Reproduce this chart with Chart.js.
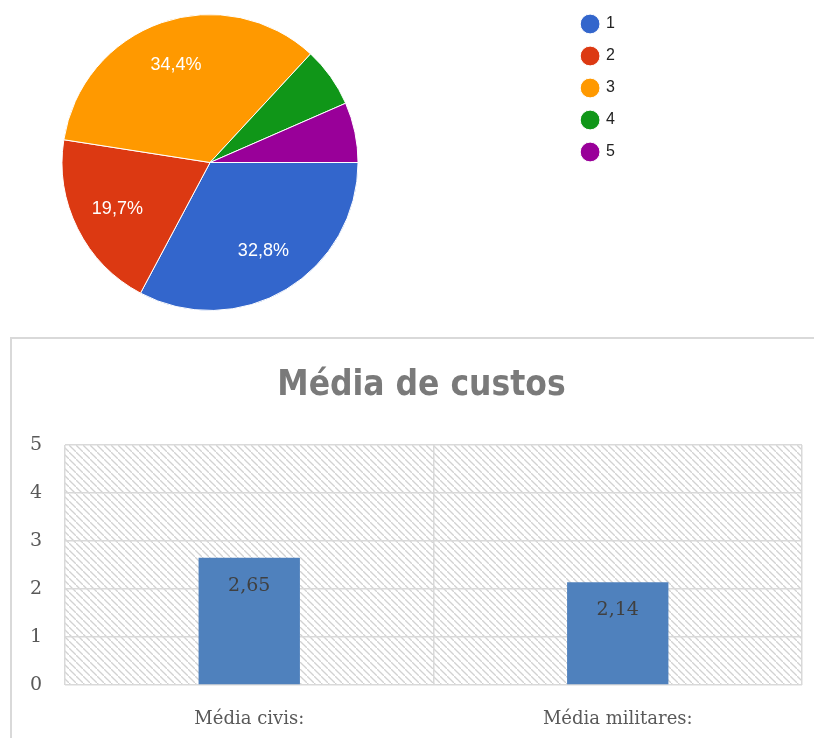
<!DOCTYPE html>
<html>
<head>
<meta charset="utf-8">
<script src="https://cdn.jsdelivr.net/npm/chart.js@4"></script>
<style>
  html, body { margin: 0; padding: 0; background: #fff; overflow: hidden; }
  body { width: 814px; height: 738px; position: relative; }
  #pieWrap { position: absolute; left: -146px; top: 0; width: 771px; height: 325px; }
  #barBox { position: absolute; left: 10px; top: 337px; width: 820px; height: 420px;
            border: 2px solid #d9d9d9; box-sizing: border-box; }
  #barWrap { position: absolute; left: 1px; top: 1px; width: 803px; height: 400px; }
</style>
</head>
<body>
<div id="pieWrap"><canvas id="pieChart"></canvas></div>
<div id="barBox"><div id="barWrap"><canvas id="barChart"></canvas></div></div>

<script>
// pie data (answers 1..5)
const pieLabels = ['1', '2', '3', '4', '5'];
const pieCounts = [20, 12, 21, 4, 4];
const pieColors = ['#3366cc', '#dc3912', '#ff9900', '#109618', '#990099'];

// bar data
const barLabels = ['Média civis:', 'Média militares:'];
const barValues = [2.65, 2.14];
const yTicks = [0, 1, 2, 3, 4, 5];

const serif = "'DejaVu Serif', 'Liberation Serif', serif";

// percent labels on the bigger slices
const sliceLabels = {
  id: 'sliceLabels',
  afterDatasetsDraw(chart) {
    const meta = chart.getDatasetMeta(0);
    const data = chart.data.datasets[0].data;
    const total = data.reduce((a, b) => a + b, 0);
    const ctx = chart.ctx;
    ctx.save();
    ctx.fillStyle = '#fff';
    ctx.font = "18px 'Liberation Sans', Arial, sans-serif";
    ctx.textAlign = 'center';
    ctx.textBaseline = 'middle';
    meta.data.forEach((arc, i) => {
      const pct = data[i] / total * 100;
      if (pct < 10) return;
      const mid = (arc.startAngle + arc.endAngle) / 2;
      const r = arc.outerRadius * 0.7;
      ctx.fillText(pct.toFixed(1).replace('.', ',') + '%',
        arc.x + Math.cos(mid) * r, arc.y + Math.sin(mid) * r);
    });
    ctx.restore();
  }
};

// hatched plot background
const hatchBg = {
  id: 'hatchBg',
  beforeDraw(chart) {
    const tile = document.createElement('canvas');
    tile.width = 7; tile.height = 7;
    const t = tile.getContext('2d');
    t.strokeStyle = '#d2d2d2';
    t.lineWidth = 1.3;
    t.beginPath();
    t.moveTo(-1, -1); t.lineTo(8, 8);
    t.stroke();
    const { ctx, chartArea: a } = chart;
    ctx.save();
    ctx.fillStyle = ctx.createPattern(tile, 'repeat');
    ctx.fillRect(a.left, a.top, a.right - a.left, a.bottom - a.top);
    ctx.restore();
  }
};

const barValueLabels = {
  id: 'barValueLabels',
  afterDatasetsDraw(chart) {
    const meta = chart.getDatasetMeta(0);
    const ctx = chart.ctx;
    ctx.save();
    ctx.fillStyle = '#404040';
    ctx.font = '19px ' + serif;
    ctx.textAlign = 'center';
    ctx.textBaseline = 'middle';
    meta.data.forEach((bar, i) => {
      ctx.fillText(String(barValues[i]).replace('.', ','), bar.x, bar.y + 28);
    });
    ctx.restore();
  }
};

new Chart(document.getElementById('pieChart'), {
  type: 'pie',
  data: {
    labels: pieLabels,
    datasets: [{
      data: pieCounts,
      backgroundColor: pieColors,
      borderColor: '#fff',
      borderWidth: 1,
      radius: 148
    }]
  },
  options: {
    responsive: true,
    maintainAspectRatio: false,
    animation: false,
    rotation: 90,
    layout: { padding: 0 },
    plugins: {
      legend: {
        position: 'right',
        align: 'start',
        labels: {
          usePointStyle: true,
          pointStyle: 'circle',
          boxWidth: 16,
          boxHeight: 14,
          padding: 16,
          color: '#222',
          font: { family: "'Liberation Sans', Arial, sans-serif", size: 16 }
        }
      },
      tooltip: { enabled: false }
    }
  },
  plugins: [sliceLabels]
});

new Chart(document.getElementById('barChart'), {
  type: 'bar',
  data: {
    labels: barLabels,
    datasets: [{
      data: barValues,
      backgroundColor: '#4f81bd',
      categoryPercentage: 1,
      barPercentage: 0.275
    }]
  },
  options: {
    responsive: true,
    maintainAspectRatio: false,
    animation: false,
    layout: { padding: { left: 14, right: 0, top: 0, bottom: 0 } },
    plugins: {
      legend: { display: false },
      tooltip: { enabled: false },
      title: {
        display: true,
        text: 'Média de custos',
        color: '#7a7a7a',
        font: { family: "'Liberation Sans Narrow', 'DejaVu Sans Condensed', sans-serif", size: 35, weight: 'bold', lineHeight: 1.2 },
        padding: { top: 25, bottom: 38 }
      }
    },
    scales: {
      x: {
        grid: { color: '#d9d9d9', lineWidth: 1.5, drawTicks: false, offset: true },
        border: { display: false },
        ticks: { color: '#595959', padding: 24, font: { family: serif, size: 18 } },
        afterFit(scale) { scale.height = 55; }
      },
      y: {
        min: 0,
        max: 5,
        afterBuildTicks(scale) { scale.ticks = yTicks.map(v => ({ value: v })); },
        grid: { color: '#d9d9d9', lineWidth: 1.5, drawTicks: false },
        border: { display: false },
        ticks: { color: '#595959', padding: 23, font: { family: serif, size: 19 } },
        afterFit(scale) { scale.width = 38; }
      },
      // empty right-hand spacer so the title centres like the original
      yRight: {
        position: 'right',
        display: true,
        grid: { display: false },
        border: { display: false },
        ticks: { display: false },
        afterFit(scale) { scale.width = 14; }
      }
    }
  },
  plugins: [hatchBg, barValueLabels]
});
</script>
</body>
</html>
